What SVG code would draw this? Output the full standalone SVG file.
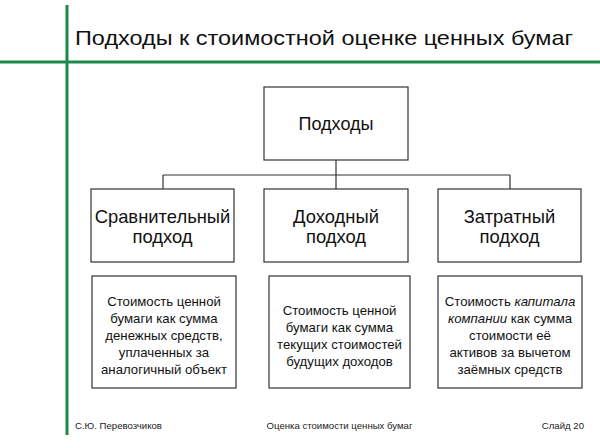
<svg xmlns="http://www.w3.org/2000/svg" width="600" height="448" viewBox="0 0 600 448">
<style>
  text { font-family: "Liberation Sans", Arial, sans-serif; fill: #111; text-anchor: middle; }
  .box { fill: #fff; stroke: #333; stroke-width: 1.2; }
  .conn { fill: none; stroke: #333; stroke-width: 1.2; }
  .green { stroke: #1d8a4b; stroke-width: 3; }
  .title { font-size: 21px; text-anchor: start; }
  .top { font-size: 18px; }
  .mid { font-size: 18.4px; }
  .desc { font-size: 13.2px; }
  .foot { font-size: 9.6px; fill: #222; }
</style>
<rect width="600" height="448" fill="#fff"/>
<g id="frame">
  <line class="green" x1="67" y1="5" x2="67" y2="435"/>
  <line class="green" x1="0" y1="62" x2="600" y2="62"/>
  <text class="title" x="75" y="45" textLength="498" lengthAdjust="spacingAndGlyphs">Подходы к стоимостной оценке ценных бумаг</text>
</g>
<g id="connectors">
  <path class="conn" d="M336 160 V189 M163 175 H510 M163 175 V189 M510 175 V189"/>
</g>
<g id="root">
  <rect class="box" x="264" y="87" width="144" height="73"/>
  <text class="top" x="336" y="130">Подходы</text>
</g>
<g id="comparative">
  <rect class="box" x="91" y="189" width="143" height="73"/>
  <text class="mid" x="162.5" y="223">Сравнительный</text>
  <text class="mid" x="162.5" y="243">подход</text>
</g>
<g id="income">
  <rect class="box" x="264" y="189" width="144" height="73"/>
  <text class="mid" x="336" y="223">Доходный</text>
  <text class="mid" x="336" y="243">подход</text>
</g>
<g id="cost">
  <rect class="box" x="438" y="189" width="143" height="73"/>
  <text class="mid" x="509.5" y="223">Затратный</text>
  <text class="mid" x="509.5" y="243">подход</text>
</g>
<g id="comparative-desc">
  <rect class="box" x="92" y="276" width="144" height="112"/>
  <text class="desc" x="164" y="306">Стоимость ценной</text>
  <text class="desc" x="164" y="323">бумаги как сумма</text>
  <text class="desc" x="164" y="340">денежных средств,</text>
  <text class="desc" x="164" y="357">уплаченных за</text>
  <text class="desc" x="164" y="374">аналогичный объект</text>
</g>
<g id="income-desc">
  <rect class="box" x="269" y="276" width="141" height="112"/>
  <text class="desc" x="339.5" y="315">Стоимость ценной</text>
  <text class="desc" x="339.5" y="332">бумаги как сумма</text>
  <text class="desc" x="339.5" y="349">текущих стоимостей</text>
  <text class="desc" x="339.5" y="366">будущих доходов</text>
</g>
<g id="cost-desc">
  <rect class="box" x="438" y="276" width="144" height="112"/>
  <text class="desc" x="510" y="306">Стоимость <tspan font-style="italic">капитала</tspan></text>
  <text class="desc" x="510" y="323"><tspan font-style="italic">компании</tspan> как сумма</text>
  <text class="desc" x="510" y="340">стоимости её</text>
  <text class="desc" x="510" y="357">активов за вычетом</text>
  <text class="desc" x="510" y="374">заёмных средств</text>
</g>
<g id="footer">
  <text class="foot" x="75" y="429" style="text-anchor:start">С.Ю. Перевозчиков</text>
  <text class="foot" x="339.5" y="429">Оценка стоимости ценных бумаг</text>
  <text class="foot" x="584" y="429" style="text-anchor:end">Слайд 20</text>
</g>
</svg>
